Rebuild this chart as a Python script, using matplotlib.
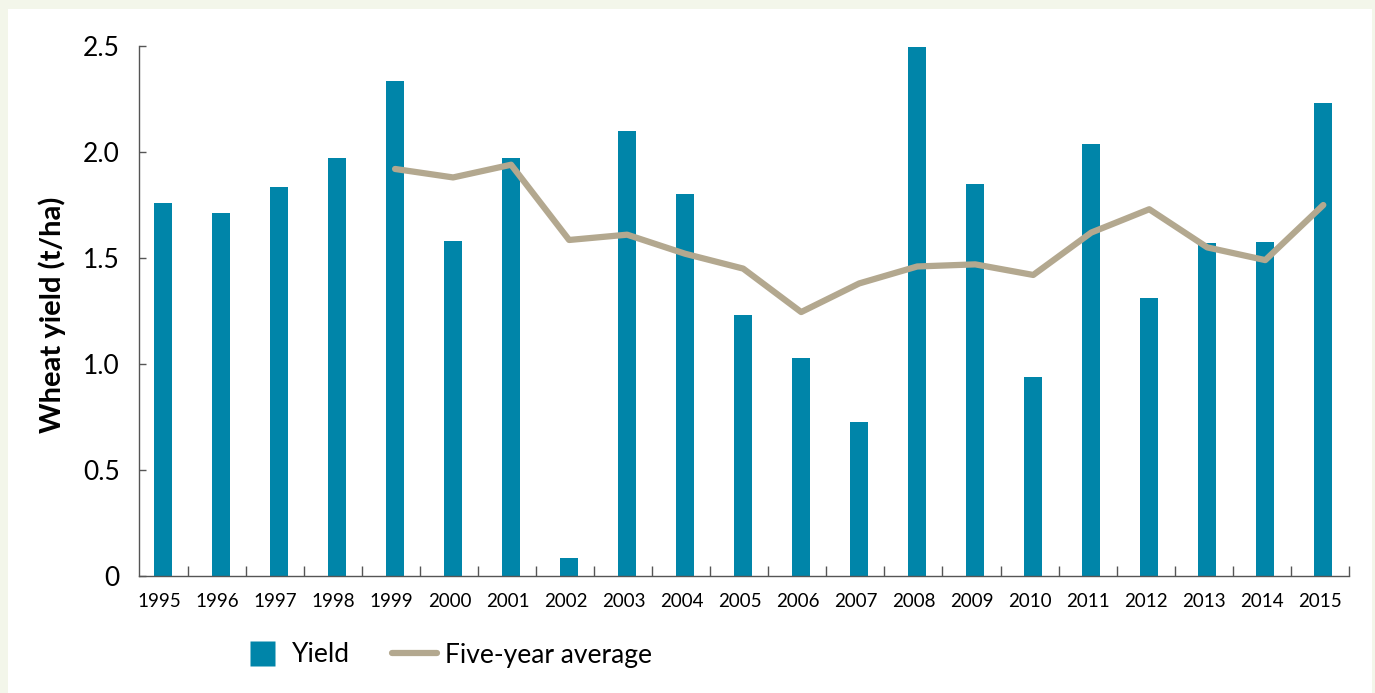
import matplotlib
matplotlib.use("Agg")
import matplotlib.pyplot as plt
from matplotlib.patches import Rectangle
from matplotlib.lines import Line2D

# ---------------- data ----------------
years = [str(y) for y in range(1995, 2016)]
yield_t_ha = [1.76, 1.71, 1.835, 1.97, 2.335, 1.58, 1.97, 0.085, 2.10, 1.80,
              1.23, 1.03, 0.726, 2.495, 1.85, 0.94, 2.04, 1.31, 1.57, 1.575, 2.23]
avg_years = years[4:]
five_year_avg = [1.92, 1.88, 1.94, 1.585, 1.61, 1.52, 1.45, 1.245, 1.38,
                 1.46, 1.47, 1.42, 1.62, 1.73, 1.55, 1.49, 1.75]

BAR_COLOR = "#0085a9"
LINE_COLOR = "#b3a88f"
AXIS_COLOR = "#555555"

plt.rcParams["font.family"] = ["Lato", "DejaVu Sans"]

fig = plt.figure(figsize=(13.75, 6.93), dpi=100)
fig.patch.set_facecolor("#f3f6ea")

# white card behind the chart
card = Rectangle((8 / 1375, 0), 1364 / 1375, 684 / 693,
                 transform=fig.transFigure, facecolor="white",
                 edgecolor="none", zorder=-10)
fig.add_artist(card)

ax = fig.add_axes([139 / 1375, 1 - 576 / 693, 1210 / 1375, 530 / 693])
ax.set_facecolor("none")
ax.set_zorder(2)

x = list(range(len(years)))
ax.bar(x, yield_t_ha, width=0.31, color=BAR_COLOR, zorder=2)
ax.plot([years.index(y) for y in avg_years], five_year_avg,
        color=LINE_COLOR, linewidth=4.5, solid_capstyle="round",
        solid_joinstyle="round", zorder=3)

# bars sit slightly right of the category centre
ax.set_xlim(-0.414, 20.443)
ax.set_ylim(0, 2.5)
ax.set_yticks([0, 0.5, 1.0, 1.5, 2.0, 2.5])
ax.set_yticklabels(["0", "0.5", "1.0", "1.5", "2.0", "2.5"], fontsize=19)

# category labels centred, tick marks on the boundaries
ax.set_xticks([i - 0.06 for i in x])
ax.set_xticklabels(years, fontsize=13.5)
ax.tick_params(axis="x", which="major", length=0, pad=12)
ax.set_xticks([i + 0.436 for i in x], minor=True)
ax.tick_params(axis="x", which="minor", direction="in", length=7,
               width=1, color=AXIS_COLOR)
ax.tick_params(axis="y", direction="in", length=5, width=1,
               color=AXIS_COLOR, pad=14)

for side in ["top", "right"]:
    ax.spines[side].set_visible(False)
for side in ["left", "bottom"]:
    ax.spines[side].set_color(AXIS_COLOR)
    ax.spines[side].set_linewidth(1)

ax.set_ylabel("Wheat yield (t/ha)", fontsize=21, fontweight="bold",
              va="center")
ax.yaxis.set_label_coords(-0.072, 0.4925)

handles = [Line2D([0], [0], linestyle="none", marker="s", markersize=18,
                  markerfacecolor=BAR_COLOR, markeredgecolor="none"),
           Line2D([0], [0], color=LINE_COLOR, linewidth=4.5,
                  solid_capstyle="round")]
fig.legend(handles, ["Yield", "Five-year average"],
           loc="center left", bbox_to_anchor=(240 / 1375, 1 - 655 / 693),
           ncol=2, frameon=False, fontsize=19, handlelength=1.68,
           columnspacing=1.6, handletextpad=0.3, borderpad=0,
           borderaxespad=0)

fig.savefig("out.png", dpi=100, facecolor=fig.get_facecolor())
